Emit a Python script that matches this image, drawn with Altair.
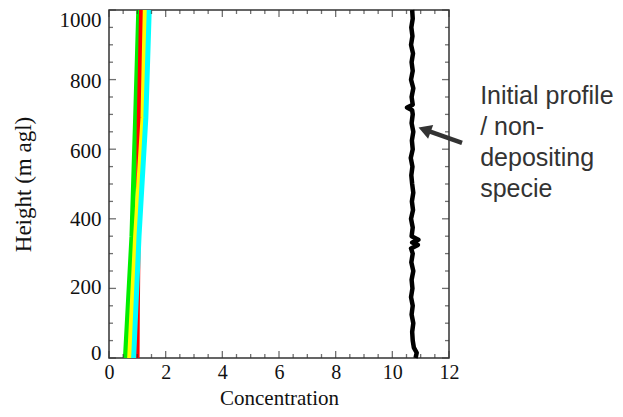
import altair as alt
import pandas as pd

# ---- data ----
heights_col = [0, 350, 690, 1000]
green = [0.58, 0.81, 0.94, 1.05]
yellow = [0.73, 0.94, 1.20, 1.28]
cyan = [0.87, 1.06, 1.30, 1.42]
red_heights = [0, 130, 690, 1000]
red = [0.99, 1.00, 1.07, 1.15]

black_heights = [0, 15, 30, 50, 75, 100, 125, 150, 175, 200, 225, 250, 275, 300,
                 315, 325, 332, 340, 350, 375, 400, 425, 450, 475, 500, 525, 550,
                 575, 600, 625, 650, 675, 700, 712, 720, 728, 750, 775, 800, 825,
                 850, 875, 900, 925, 950, 975, 1000]
black = [10.82, 10.86, 10.76, 10.72, 10.70, 10.74, 10.68, 10.72, 10.66, 10.71,
         10.68, 10.74, 10.67, 10.72, 10.66, 10.90, 10.70, 10.92, 10.68, 10.72,
         10.66, 10.73, 10.69, 10.74, 10.70, 10.67, 10.71, 10.65, 10.72, 10.69,
         10.74, 10.68, 10.72, 10.70, 10.52, 10.72, 10.68, 10.74, 10.66, 10.72,
         10.68, 10.73, 10.66, 10.71, 10.67, 10.72, 10.70]

x_major = [0, 2, 4, 6, 8, 10, 12]
x_minor = [v / 2 for v in range(1, 24) if v % 4 != 0]
y_major = [0, 200, 400, 600, 800, 1000]
y_minor = [v for v in range(50, 1000, 50) if v % 200 != 0]

annot_lines = ["Initial profile", "/ non-", "depositing", "specie"]
annot_pos = {"c": [13.1], "h": [753]}
arrow_tail = {"c": [12.46], "h": [618]}
arrow_head = {"c": [11.21], "h": [654]}

# ---- scales / axes ----
xscale = alt.Scale(domain=[0, 12], nice=False, zero=False)
yscale = alt.Scale(domain=[0, 1000], nice=False, zero=False)
serif = "Liberation Serif"
xaxis = alt.Axis(values=x_major, format="d", ticks=False, domain=False, grid=False,
                 labelFlush=False,
                 labelFont=serif, labelFontSize=20, labelColor="#111",
                 labelPadding=4, title="Concentration", titleFont=serif,
                 titleFontSize=21, titleFontWeight="normal", titleColor="#111",
                 titleBaseline="alphabetic", titleY=46)
yaxis = alt.Axis(values=y_major, format="d", ticks=False, domain=False, grid=False,
                 labelFlush=False,
                 labelFont=serif, labelFontSize=21, labelColor="#111",
                 labelPadding=8,
                 labelOffset={"condition": [
                     {"test": "datum.value == 1000", "value": 10},
                     {"test": "datum.value == 800", "value": 2},
                     {"test": "datum.value == 600", "value": 2},
                     {"test": "datum.value == 400", "value": 1},
                     {"test": "datum.value == 200", "value": -1},
                     {"test": "datum.value == 0", "value": -5},
                 ], "value": 0},
                 title="Height (m agl)", titleFont=serif,
                 titleFontSize=23, titleFontWeight="normal", titleColor="#111",
                 titlePadding=24)

X = lambda f: alt.X(f, scale=xscale, axis=xaxis)
Y = lambda f: alt.Y(f, scale=yscale, axis=yaxis)


def line(xs, hs, color, width):
    df = pd.DataFrame({"c": xs, "h": hs})
    return alt.Chart(df).mark_line(color=color, strokeWidth=width,
                                   strokeJoin="round").encode(
        x=X("c:Q"), y=Y("h:Q"), order="h:Q",
    )


layers = [
    line(green, heights_col, "#00ee00", 5),
    line(red, red_heights, "#ff0000", 5),
    line(yellow, heights_col, "#ffff00", 5),
    line(cyan, heights_col, "#00ffff", 5),
    line(black, black_heights, "#000000", 4.5),
]

tick_color = "#333333"


def xticks(vals, at, size, off):
    df = pd.DataFrame({"c": vals, "h": [at] * len(vals)})
    return alt.Chart(df).mark_tick(orient="vertical", size=size, thickness=1.3,
                                   color=tick_color, yOffset=off).encode(
        x=X("c:Q"), y=Y("h:Q"),
    )


def yticks(vals, at, size, off):
    df = pd.DataFrame({"h": vals, "c": [at] * len(vals)})
    return alt.Chart(df).mark_tick(orient="horizontal", size=size, thickness=1.3,
                                   color=tick_color, xOffset=off).encode(
        x=X("c:Q"), y=Y("h:Q"),
    )


layers += [
    xticks(x_major, 0, 7, -3.5), xticks(x_minor, 0, 4, -2),
    xticks(x_major, 1000, 7, 3.5), xticks(x_minor, 1000, 4, 2),
    yticks(y_major, 0, 7, 3.5), yticks(y_minor, 0, 4, 2),
    yticks(y_major, 12, 7, -3.5), yticks(y_minor, 12, 4, -2),
]

# annotation text
text_df = pd.DataFrame({"c": annot_pos["c"], "h": annot_pos["h"],
                        "t": ["\n".join(annot_lines)]})
layers.append(
    alt.Chart(text_df).mark_text(align="left", baseline="middle",
                                 font="Liberation Sans", fontSize=25,
                                 color="#333333", lineHeight=31,
                                 lineBreak="\n").encode(
        x=X("c:Q"), y=Y("h:Q"), text="t:N",
    )
)

# arrow
arrow_df = pd.DataFrame({"c": arrow_tail["c"], "h": arrow_tail["h"],
                         "c2": arrow_head["c"], "h2": arrow_head["h"]})
layers.append(
    alt.Chart(arrow_df).mark_rule(color="#333333", strokeWidth=4.5).encode(
        x=X("c:Q"), y=Y("h:Q"), x2="c2:Q", y2="h2:Q",
    )
)
head_df = pd.DataFrame(arrow_head)
layers.append(
    alt.Chart(head_df).mark_point(shape="triangle", filled=True, size=220,
                                  angle=290, color="#333333", opacity=1).encode(
        x=X("c:Q"), y=Y("h:Q"),
    )
)

chart = alt.layer(*layers).properties(
    width=340, height=348,
    autosize=alt.AutoSizeParams(type="none"),
    padding={"left": 101, "top": 2, "right": 166, "bottom": 51},
    background="white",
).configure_view(stroke="#333333", strokeWidth=1.5)

chart.save("out.html", embed_options={"renderer": "svg", "actions": False})
